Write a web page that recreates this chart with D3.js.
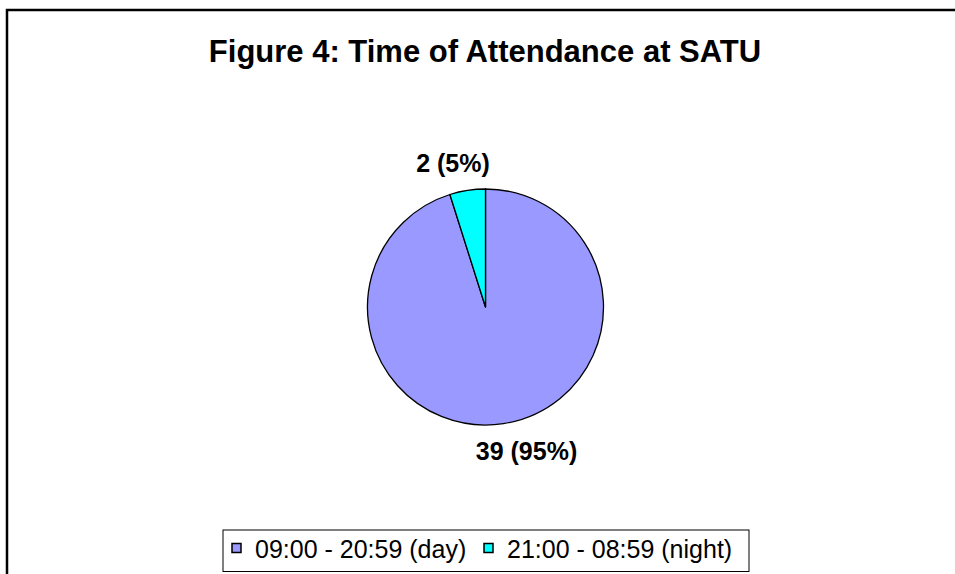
<!DOCTYPE html>
<html lang="en">
<head>
<meta charset="UTF-8">
<title>Time of Attendance at SATU</title>
<script src="https://d3js.org/d3.v7.min.js"></script>
<style>
  body { margin: 0; background: #fff; }
  svg { font-family: "Liberation Sans", Arial, sans-serif; }
</style>
</head>
<body>
<div id="chart"></div>
<script>
const categories = ["09:00 - 20:59 (day)", "21:00 - 08:59 (night)"];
const counts = [39, 2];
const percents = ["95%", "5%"];
const colors = ["#9999ff", "#00ffff"];

const width = 955, height = 574;
const cx = 485.5, cy = 307, radius = 118;

const svg = d3.select("#chart").append("svg")
    .attr("width", width)
    .attr("height", height);

// outer chart frame (right and bottom fall outside the view)
svg.append("rect")
    .attr("x", 7).attr("y", 10)
    .attr("width", 960).attr("height", 600)
    .attr("fill", "none")
    .attr("stroke", "#000")
    .attr("stroke-width", 2.5);

svg.append("text")
    .attr("x", 485).attr("y", 62)
    .attr("text-anchor", "middle")
    .style("font-size", "31px")
    .style("font-weight", "bold")
    .text("Figure 4: Time of Attendance at SATU");

const pie = d3.pie().sort(null)(counts);
const arc = d3.arc().innerRadius(0).outerRadius(radius);

const g = svg.append("g").attr("transform", `translate(${cx},${cy})`);

g.selectAll("path")
    .data(pie)
    .join("path")
    .attr("d", arc)
    .attr("fill", (d, i) => colors[i])
    .attr("stroke", "#000")
    .attr("stroke-width", 1.3)
    .attr("stroke-linejoin", "round");

// data labels placed outside the slices
g.selectAll("text.lbl")
    .data(pie)
    .join("text")
    .attr("class", "lbl")
    .attr("x", (d, i) => i === 0 ? 41 : -32.5)
    .attr("y", (d, i) => i === 0 ? 153 : -135)
    .attr("text-anchor", "middle")
    .style("font-size", "25px")
    .style("font-weight", "bold")
    .text((d, i) => `${counts[i]} (${percents[i]})`);

// legend
const legend = svg.append("g");
legend.append("rect")
    .attr("x", 223).attr("y", 530)
    .attr("width", 526).attr("height", 41.5)
    .attr("fill", "#fff")
    .attr("stroke", "#000")
    .attr("stroke-width", 1);

const itemX = [232, 484];
categories.forEach((c, i) => {
  legend.append("rect")
      .attr("x", itemX[i]).attr("y", 543.5)
      .attr("width", 9).attr("height", 9)
      .attr("fill", colors[i])
      .attr("stroke", "#000")
      .attr("stroke-width", 1.5);
  legend.append("text")
      .attr("x", itemX[i] + 23).attr("y", 558)
      .style("font-size", "25px")
      .text(c);
});
</script>
</body>
</html>
